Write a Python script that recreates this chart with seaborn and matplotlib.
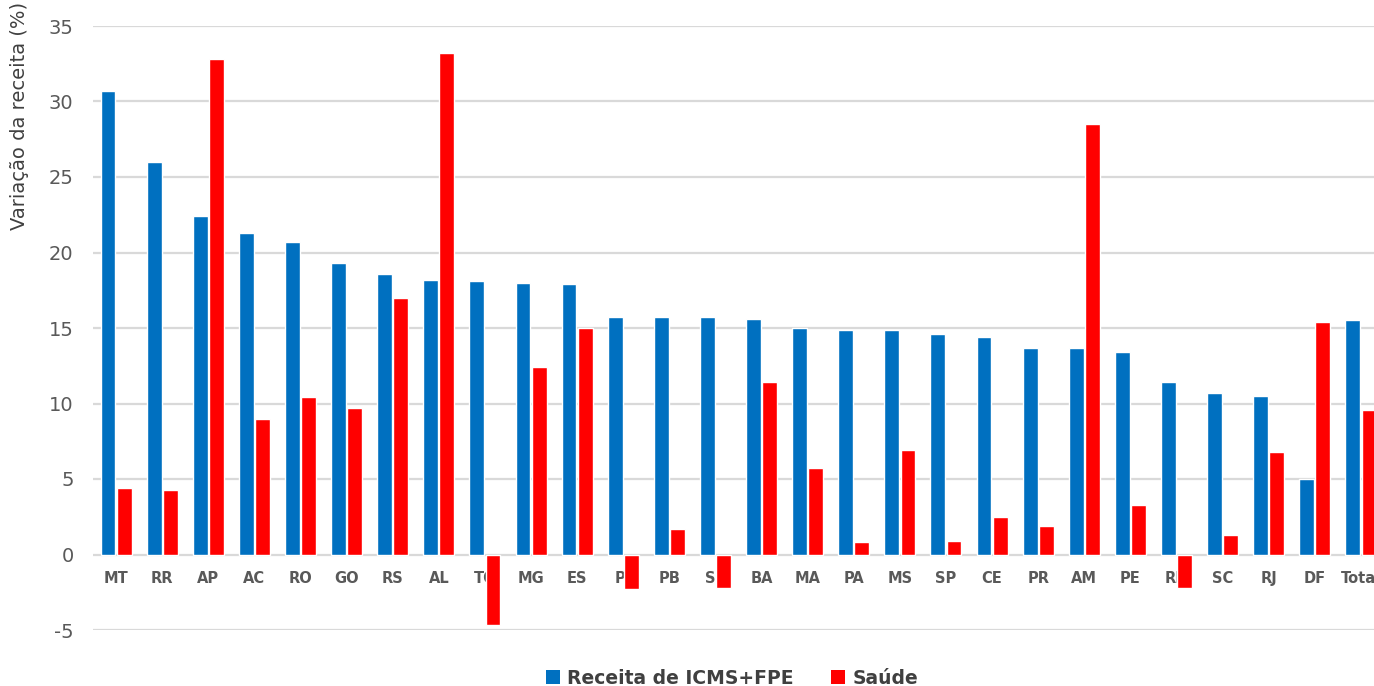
import pandas as pd
import matplotlib.pyplot as plt
import seaborn as sns
from matplotlib.patches import Patch

# dados por UF (variação % da receita)
ufs = ['MT', 'RR', 'AP', 'AC', 'RO', 'GO', 'RS', 'AL', 'TO', 'MG', 'ES', 'PI', 'PB', 'SE',
       'BA', 'MA', 'PA', 'MS', 'SP', 'CE', 'PR', 'AM', 'PE', 'RN', 'SC', 'RJ', 'DF', 'Total']
icms_fpe = [30.7, 26.0, 22.4, 21.3, 20.7, 19.3, 18.6, 18.2, 18.1, 18.0, 17.9, 15.75, 15.7, 15.7,
            15.6, 15.0, 14.9, 14.9, 14.6, 14.4, 13.7, 13.7, 13.4, 11.4, 10.7, 10.5, 5.0, 15.5]
saude = [4.4, 4.3, 32.8, 9.0, 10.4, 9.7, 17.0, 33.2, -4.7, 12.4, 15.0, -2.3, 1.7, -2.2,
         11.4, 5.7, 0.8, 6.9, 0.9, 2.5, 1.9, 28.5, 3.3, -2.2, 1.3, 6.8, 15.4, 9.6]
series = ['Receita de ICMS+FPE', 'Saúde']
colors = ['#0070C0', '#FF0000']

df = pd.DataFrame({
    'UF': ufs * 2,
    'valor': icms_fpe + saude,
    'serie': [series[0]] * len(ufs) + [series[1]] * len(ufs),
})

sns.set_style('white')
plt.rcParams['font.family'] = ['DejaVu Sans']
plt.rcParams['axes.unicode_minus'] = False

fig = plt.figure(figsize=(13.74, 6.86), dpi=100)
# o gráfico original está cortado na direita
ax = fig.add_axes([93 / 1374, 56 / 686, 1291 / 1374, 604 / 686])

sns.barplot(data=df, x='UF', y='valor', hue='serie', order=ufs, hue_order=series,
            palette=colors, width=0.7, gap=0.08, saturation=1, ax=ax)
ax.get_legend().remove()

ax.set_xlim(-0.5, len(ufs) - 0.5)
ax.set_ylim(-5, 35)
ax.set_yticks(range(-5, 36, 5))
ax.grid(axis='y', color='#D9D9D9', linewidth=1.6)
ax.set_axisbelow(True)
for s in ax.spines.values():
    s.set_visible(False)
ax.spines['bottom'].set_position(('data', 0))

ax.set_xlabel('')
ax.set_ylabel('')
ax.tick_params(axis='y', length=0, pad=14, labelsize=14, labelcolor='#595959')
ax.tick_params(axis='x', length=0, pad=12, labelsize=10.5, labelcolor='#595959')
for t in ax.get_xticklabels():
    t.set_fontweight('bold')

fig.text(20 / 1374, 1 - 116 / 686, 'Variação da receita (%)', rotation=90,
         ha='center', va='center', fontsize=14, color='#404040')

handles = [Patch(facecolor=c, edgecolor='none') for c in colors]
fig.legend(handles, series, loc='center', bbox_to_anchor=(732 / 1374, 8 / 686),
           ncol=2, frameon=False, handlelength=0.75, handleheight=0.75,
           handletextpad=0.4, columnspacing=2.0,
           prop={'size': 13.5, 'weight': 'bold'}, labelcolor='#404040')

fig.savefig('out.png', dpi=100)
